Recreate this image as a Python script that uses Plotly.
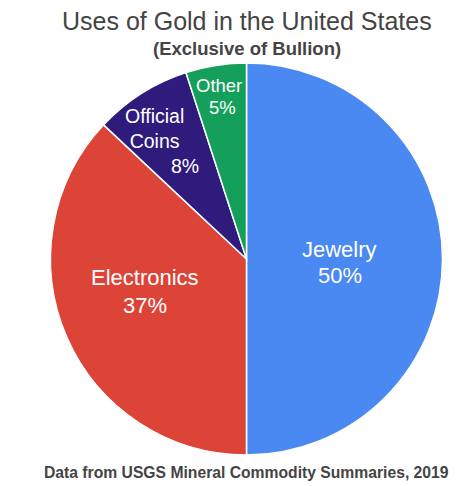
import math
import plotly.graph_objects as go

# Uses of gold in the US, share of consumption (%)
categories = ["Jewelry", "Electronics", "Official Coins", "Other"]
shares = [50, 37, 8, 5]
slice_colors = ["#4a88f2", "#dc4437", "#2e1b7c", "#14a05a"]

title_text = "Uses of Gold in the United States"
subtitle_text = "(Exclusive of Bullion)"
source_text = "Data from USGS Mineral Commodity Summaries, 2019"

W, H = 465, 486
FONT = "Liberation Sans, Arial, Helvetica, sans-serif"

# pie geometry in pixels
CX, CY, R = 246.5, 259.0, 196.0

# label styling per slice: radial position (fraction of radius), font size,
# and pixel offsets of the name block and of the percentage
label_radius = [0.475, 0.54, 0.72, 0.84]
label_size = [22, 22, 19.5, 18.5]
name_offsets = [(0, -10), (-4, -24), (-16.5, -11), (-2, -11)]
value_offsets = [(0, 16.5), (-4, 4), (14, 26), (2, 11.5)]

fig = go.Figure(
    go.Pie(
        labels=categories,
        values=shares,
        sort=False,
        direction="clockwise",
        rotation=0,
        marker=dict(colors=slice_colors, line=dict(color="white", width=1.5)),
        textinfo="none",
        hoverinfo="label+percent",
        showlegend=False,
        domain=dict(x=[(CX - R) / W, (CX + R) / W], y=[(H - CY - R) / H, (H - CY + R) / H]),
    )
)

annotations = []
total = sum(shares)
cum = 0.0
for name, val, rf, size, noff, voff in zip(categories, shares, label_radius,
                                            label_size, name_offsets, value_offsets):
    mid = (cum + val / 2) / total * 2 * math.pi  # clockwise from 12 o'clock
    cum += val
    ax = CX + rf * R * math.sin(mid)
    ay = CY - rf * R * math.cos(mid)
    for text, (dx, dy) in ((name.replace(" ", "<br>"), noff), (f"{val}%", voff)):
        annotations.append(dict(
            text=text, x=(ax + dx) / W, y=1 - (ay + dy) / H,
            xref="paper", yref="paper", showarrow=False,
            xanchor="center", yanchor="middle", align="center",
            font=dict(family=FONT, size=size, color="white"),
        ))

annotations += [
    dict(text=title_text, x=247 / W, y=1 - 21 / H, xref="paper", yref="paper",
         showarrow=False, font=dict(size=25, color="#444444"), yanchor="middle"),
    dict(text="<b>" + subtitle_text + "</b>", x=247 / W, y=1 - 48 / H, xref="paper", yref="paper",
         showarrow=False, font=dict(size=18.5, color="#444444"), yanchor="middle"),
    dict(text="<b>" + source_text + "</b>", x=247 / W, y=1 - 472 / H, xref="paper", yref="paper",
         showarrow=False, font=dict(size=15.7, color="#444444"), yanchor="middle"),
]

fig.update_layout(
    width=W,
    height=H,
    margin=dict(l=0, r=0, t=0, b=0),
    paper_bgcolor="white",
    plot_bgcolor="white",
    font=dict(family=FONT, color="#444444"),
    annotations=annotations,
)

fig.write_html("out.html")
